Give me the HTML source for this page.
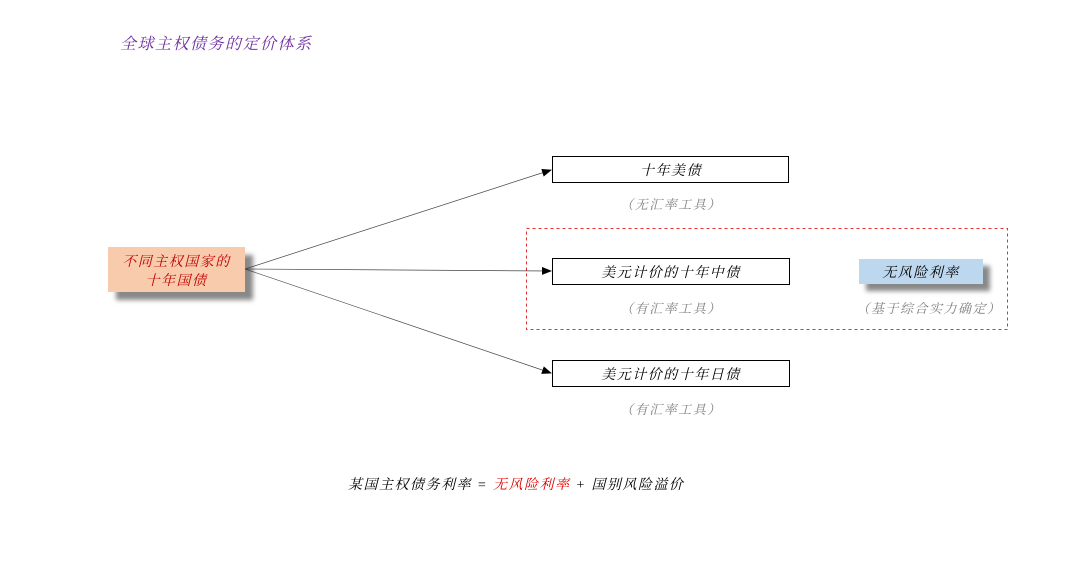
<!DOCTYPE html>
<html><head><meta charset="utf-8"><style>
body{margin:0;background:#fff}
svg text{font-family:"Liberation Serif","Noto Serif CJK SC","Noto Sans CJK SC",serif;font-style:italic;letter-spacing:1.5px}
</style></head><body>
<svg width="1080" height="562" xmlns="http://www.w3.org/2000/svg">
<defs>
<filter id="sh" x="-20%" y="-30%" width="150%" height="180%"><feGaussianBlur stdDeviation="2.5"/></filter>
<marker id="ar" markerWidth="10" markerHeight="8" refX="9" refY="4" orient="auto" markerUnits="userSpaceOnUse"><path d="M0,0 L10,4 L0,8 z" fill="#000"/></marker>
</defs>
<text x="120" y="49" font-size="16" fill="#7030a0">全球主权债务的定价体系</text>
<rect x="116" y="255" width="137" height="45" fill="#888" filter="url(#sh)"/>
<rect x="108" y="247" width="137" height="45" fill="#f8cbad"/>
<text x="176.5" y="266" font-size="14" fill="#c00000" text-anchor="middle">不同主权国家的</text>
<text x="176.5" y="285" font-size="14" fill="#c00000" text-anchor="middle">十年国债</text>
<g stroke="#444" stroke-width="0.7" fill="none">
<line x1="245" y1="269" x2="551" y2="170" marker-end="url(#ar)"/>
<line x1="245" y1="269" x2="551" y2="271" marker-end="url(#ar)"/>
<line x1="245" y1="269" x2="551" y2="373" marker-end="url(#ar)"/>
</g>
<rect x="526.5" y="228.5" width="481" height="101" fill="none" stroke="#e03030" stroke-width="1" stroke-dasharray="3,3"/>
<g fill="#fff" stroke="#000" stroke-width="1">
<rect x="552.5" y="156.5" width="236" height="26"/>
<rect x="552.5" y="258.5" width="237" height="26"/>
<rect x="552.5" y="360.5" width="237" height="26"/>
</g>
<text x="671" y="175" font-size="14" text-anchor="middle">十年美债</text>
<text x="671" y="277" font-size="14" text-anchor="middle">美元计价的十年中债</text>
<text x="671" y="379" font-size="14" text-anchor="middle">美元计价的十年日债</text>
<g font-size="13" fill="#808080" text-anchor="middle">
<text x="671" y="209">（无汇率工具）</text>
<text x="671" y="313">（有汇率工具）</text>
<text x="671" y="414">（有汇率工具）</text>
<text x="929" y="313">（基于综合实力确定）</text>
</g>
<rect x="866" y="266" width="124" height="25" fill="#888" filter="url(#sh)"/>
<rect x="859" y="259" width="124" height="25" fill="#bdd7ee"/>
<text x="921" y="277" font-size="14" text-anchor="middle">无风险利率</text>
<text x="348" y="489" font-size="14">某国主权债务利率 = <tspan fill="#e00000">无风险利率</tspan> + 国别风险溢价</text>
</svg>
</body></html>
